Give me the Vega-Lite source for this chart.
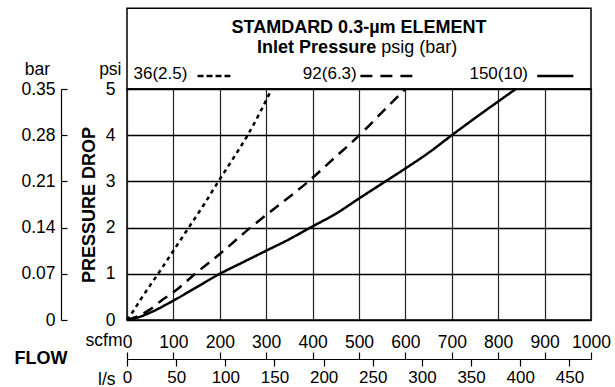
{
  "$schema": "https://vega.github.io/schema/vega-lite/v6.json",
  "width": 464,
  "height": 231,
  "autosize": {"type": "none"},
  "padding": {"left": 127, "top": 89, "right": 24, "bottom": 67},
  "config": {
    "font": "Liberation Sans",
    "view": {"stroke": "black", "strokeWidth": 1.5},
    "axis": {
      "labelColor": "black", "titleColor": "black",
      "labelFont": "Liberation Sans", "titleFont": "Liberation Sans",
      "labelFontSize": 17.5, "titleFontSize": 17.5, "titleFontWeight": "normal",
      "labelFlush": false, "labelOverlap": false
    },
    "text": {"font": "Liberation Sans", "color": "black"}
  },
  "resolve": {"axis": {"x": "independent", "y": "independent"}},
  "layer": [
    {
      "data": {"values": [
        {"series": "36", "scfm": 0, "psi": 0},
        {"series": "36", "scfm": 10, "psi": 0.14},
        {"series": "36", "scfm": 33, "psi": 0.5},
        {"series": "36", "scfm": 67, "psi": 1},
        {"series": "36", "scfm": 100, "psi": 1.5},
        {"series": "36", "scfm": 133, "psi": 2},
        {"series": "36", "scfm": 166, "psi": 2.5},
        {"series": "36", "scfm": 197, "psi": 3},
        {"series": "36", "scfm": 229, "psi": 3.5},
        {"series": "36", "scfm": 260, "psi": 4},
        {"series": "36", "scfm": 287, "psi": 4.5},
        {"series": "36", "scfm": 312, "psi": 5},
        {"series": "92", "scfm": 0, "psi": 0},
        {"series": "92", "scfm": 25, "psi": 0.09},
        {"series": "92", "scfm": 50, "psi": 0.23},
        {"series": "92", "scfm": 75, "psi": 0.43},
        {"series": "92", "scfm": 100, "psi": 0.6},
        {"series": "92", "scfm": 147, "psi": 1},
        {"series": "92", "scfm": 200, "psi": 1.43},
        {"series": "92", "scfm": 266, "psi": 2},
        {"series": "92", "scfm": 329, "psi": 2.5},
        {"series": "92", "scfm": 391, "psi": 3},
        {"series": "92", "scfm": 446, "psi": 3.5},
        {"series": "92", "scfm": 501, "psi": 4},
        {"series": "92", "scfm": 550, "psi": 4.5},
        {"series": "92", "scfm": 600, "psi": 5},
        {"series": "150", "scfm": 0, "psi": 0},
        {"series": "150", "scfm": 25, "psi": 0.06},
        {"series": "150", "scfm": 50, "psi": 0.16},
        {"series": "150", "scfm": 100, "psi": 0.42},
        {"series": "150", "scfm": 150, "psi": 0.71},
        {"series": "150", "scfm": 200, "psi": 1},
        {"series": "150", "scfm": 250, "psi": 1.25},
        {"series": "150", "scfm": 300, "psi": 1.5},
        {"series": "150", "scfm": 350, "psi": 1.75},
        {"series": "150", "scfm": 395, "psi": 2},
        {"series": "150", "scfm": 450, "psi": 2.3},
        {"series": "150", "scfm": 500, "psi": 2.63},
        {"series": "150", "scfm": 557, "psi": 3},
        {"series": "150", "scfm": 600, "psi": 3.28},
        {"series": "150", "scfm": 650, "psi": 3.62},
        {"series": "150", "scfm": 700, "psi": 4},
        {"series": "150", "scfm": 750, "psi": 4.37},
        {"series": "150", "scfm": 800, "psi": 4.73},
        {"series": "150", "scfm": 838, "psi": 5}
      ]},
      "mark": {"type": "line", "interpolate": "monotone", "strokeWidth": 2.5, "color": "black", "clip": false},
      "encoding": {
        "x": {
          "field": "scfm", "type": "quantitative",
          "scale": {"domain": [0, 1000], "nice": false},
          "axis": {
            "orient": "bottom",
            "values": [0, 100, 200, 300, 400, 500, 600, 700, 800, 900, 1000],
            "format": "d",
            "grid": true, "gridColor": "#222", "gridWidth": 1.2, "gridOpacity": 1,
            "domain": false, "ticks": false, "tickSize": 0,
            "labelPadding": 13,
            "title": "scfm", "titleAngle": 0, "titleAlign": "right", "titleBaseline": "middle",
            "titleX": -5, "titleY": 20
          }
        },
        "y": {
          "field": "psi", "type": "quantitative",
          "scale": {"domain": [0, 5], "nice": false},
          "axis": {
            "orient": "left",
            "values": [0, 1, 2, 3, 4, 5],
            "grid": true, "gridColor": "black", "gridWidth": 1.5, "gridOpacity": 1,
            "domain": false, "ticks": false, "tickSize": 0,
            "labelPadding": 12,
            "title": "psi", "titleAngle": 0, "titleAlign": "right", "titleBaseline": "alphabetic",
            "titleX": -6, "titleY": -15
          }
        },
        "strokeDash": {
          "field": "series", "type": "nominal",
          "scale": {"domain": ["36", "92", "150"], "range": [[4, 4], [11, 7], [1, 0]]},
          "legend": null
        }
      }
    },
    {
      "data": {"values": [{}]},
      "mark": {"type": "rect", "fill": "transparent", "stroke": "black", "strokeWidth": 1.5, "clip": false},
      "encoding": {
        "x": {
          "datum": 0, "type": "quantitative",
          "scale": {"domain": [0, 1000], "nice": false},
          "axis": {
            "orient": "bottom", "offset": 32,
            "values": [0, 100, 200, 300, 400, 500, 600, 700, 800, 900, 1000],
            "grid": false, "domain": false, "labels": false,
            "ticks": true, "tickSize": 7, "tickColor": "black", "tickWidth": 1.2,
            "title": "FLOW", "titleFontWeight": "bold", "titleFontSize": 18,
            "titleAngle": 0, "titleAlign": "right", "titleBaseline": "middle",
            "titleX": -60, "titleY": 6
          }
        },
        "x2": {"datum": 1000},
        "y": {
          "datum": 5, "type": "quantitative",
          "scale": {"domain": [0, 5], "nice": false},
          "axis": {
            "orient": "left", "offset": 60,
            "values": [0, 1, 2, 3, 4, 5],
            "labelExpr": "datum.value == 0 ? '0' : format(datum.value * 0.07, '.2f')",
            "grid": false, "domain": false,
            "ticks": true, "tickSize": 6, "tickColor": "black", "tickWidth": 1.2,
            "labelPadding": 6,
            "title": "bar", "titleAngle": 0, "titleAlign": "center", "titleBaseline": "alphabetic",
            "titleX": -30, "titleY": -15
          }
        },
        "y2": {"datum": 6.75}
      }
    },
    {
      "data": {"values": [{"t": "STAMDARD 0.3-µm ELEMENT"}]},
      "mark": {"type": "text", "fontSize": 18, "fontWeight": "bold", "align": "center", "baseline": "middle", "clip": false},
      "encoding": {
        "text": {"field": "t"},
        "x": {
          "datum": 500, "type": "quantitative",
          "scale": {"domain": [0, 1000], "nice": false},
          "axis": {
            "orient": "bottom", "offset": 39,
            "values": [0, 105.944, 211.888, 317.832, 423.776, 529.72, 635.664, 741.608, 847.552, 953.496],
            "labelExpr": "format(round(datum.value * 0.4719474), 'd')",
            "grid": false, "domain": true, "domainColor": "black", "domainWidth": 1.2,
            "ticks": true, "tickSize": 7, "tickColor": "black", "tickWidth": 1.2,
            "labelPadding": 3, "labelFontSize": 17,
            "title": "l/s", "titleAngle": 0, "titleAlign": "right", "titleBaseline": "middle",
            "titleX": -12, "titleY": 20
          }
        },
        "y": {
          "datum": 6.31, "type": "quantitative",
          "scale": {"domain": [0, 5], "nice": false},
          "axis": {
            "orient": "left", "offset": 66,
            "values": [0, 5],
            "grid": false, "domain": true, "domainColor": "black", "domainWidth": 1.2,
            "ticks": false, "labels": false, "title": null
          }
        }
      }
    },
    {
      "data": {"values": [{"t": "Inlet Pressure"}]},
      "mark": {"type": "text", "fontSize": 18, "fontWeight": "bold", "align": "right", "baseline": "middle", "clip": false},
      "encoding": {
        "text": {"field": "t"},
        "x": {"datum": 537, "type": "quantitative", "scale": {"domain": [0, 1000], "nice": false}, "axis": null},
        "y": {
          "datum": 5.89, "type": "quantitative",
          "scale": {"domain": [0, 5], "nice": false},
          "axis": {
            "orient": "left", "offset": 0,
            "values": [0, 5],
            "grid": false, "domain": false, "ticks": false, "labels": false,
            "title": "PRESSURE DROP", "titleFontWeight": "bold", "titleFontSize": 18,
            "titleAngle": -90, "titleAlign": "center", "titleBaseline": "middle",
            "titleX": -38, "titleY": 115.5
          }
        }
      }
    },
    {
      "data": {"values": [{"t": "psig (bar)"}]},
      "mark": {"type": "text", "fontSize": 18, "align": "left", "baseline": "middle", "clip": false},
      "encoding": {
        "text": {"field": "t"},
        "x": {"datum": 548, "type": "quantitative", "scale": {"domain": [0, 1000], "nice": false}, "axis": null},
        "y": {"datum": 5.89, "type": "quantitative", "scale": {"domain": [0, 5], "nice": false}, "axis": null}
      }
    },
    {
      "data": {"values": [{"t": "36(2.5)"}]},
      "mark": {"type": "text", "fontSize": 17, "align": "left", "baseline": "middle", "clip": false},
      "encoding": {
        "text": {"field": "t"},
        "x": {"datum": 14, "type": "quantitative", "scale": {"domain": [0, 1000], "nice": false}, "axis": null},
        "y": {"datum": 5.32, "type": "quantitative", "scale": {"domain": [0, 5], "nice": false}, "axis": null}
      }
    },
    {
      "data": {"values": [{"t": "92(6.3)"}]},
      "mark": {"type": "text", "fontSize": 17, "align": "left", "baseline": "middle", "clip": false},
      "encoding": {
        "text": {"field": "t"},
        "x": {"datum": 379, "type": "quantitative", "scale": {"domain": [0, 1000], "nice": false}, "axis": null},
        "y": {"datum": 5.32, "type": "quantitative", "scale": {"domain": [0, 5], "nice": false}, "axis": null}
      }
    },
    {
      "data": {"values": [{"t": "150(10)"}]},
      "mark": {"type": "text", "fontSize": 17, "align": "left", "baseline": "middle", "clip": false},
      "encoding": {
        "text": {"field": "t"},
        "x": {"datum": 738, "type": "quantitative", "scale": {"domain": [0, 1000], "nice": false}, "axis": null},
        "y": {"datum": 5.32, "type": "quantitative", "scale": {"domain": [0, 5], "nice": false}, "axis": null}
      }
    },
    {
      "data": {"values": [{"series": "36"}]},
      "mark": {"type": "rule", "color": "black", "strokeWidth": 2.5, "strokeDash": [6, 3], "clip": false},
      "encoding": {
        "x": {"datum": 152, "type": "quantitative", "scale": {"domain": [0, 1000], "nice": false}, "axis": null},
        "x2": {"datum": 223},
        "y": {"datum": 5.28, "type": "quantitative", "scale": {"domain": [0, 5], "nice": false}, "axis": null}
      }
    },
    {
      "data": {"values": [{"series": "92"}]},
      "mark": {"type": "rule", "color": "black", "strokeWidth": 2.5, "strokeDash": [12, 8], "clip": false},
      "encoding": {
        "x": {"datum": 503, "type": "quantitative", "scale": {"domain": [0, 1000], "nice": false}, "axis": null},
        "x2": {"datum": 615},
        "y": {"datum": 5.28, "type": "quantitative", "scale": {"domain": [0, 5], "nice": false}, "axis": null}
      }
    },
    {
      "data": {"values": [{"series": "150"}]},
      "mark": {"type": "rule", "color": "black", "strokeWidth": 2.5, "clip": false},
      "encoding": {
        "x": {"datum": 884, "type": "quantitative", "scale": {"domain": [0, 1000], "nice": false}, "axis": null},
        "x2": {"datum": 962},
        "y": {"datum": 5.28, "type": "quantitative", "scale": {"domain": [0, 5], "nice": false}, "axis": null}
      }
    }
  ]
}
